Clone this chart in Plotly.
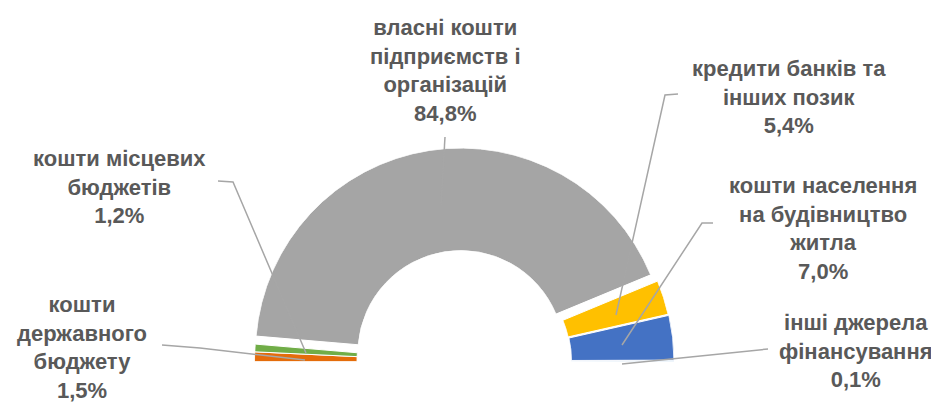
import numpy as np
import plotly.graph_objects as go

# ---------------- data ----------------
categories = [
    "кошти<br>державного<br>бюджету",
    "кошти місцевих<br>бюджетів",
    "власні кошти<br>підприємств і<br>організацій",
    "кредити банків та<br>інших позик",
    "кошти населення<br>на будівництво<br>житла",
    "інші джерела<br>фінансування",
]
shares = [1.5, 1.2, 84.8, 5.4, 7.0, 0.1]

# ---------------- styles ----------------
colors = ["#E46C0A", "#70AD47", "#A5A5A5", "#FFC000", "#4472C4", "#5B9BD5"]
explode_px = [(-2, 0), (-2, 0), (-1.2, -8), (5.7, -1.8), (6.5, -0.7), (6.5, 0)]
label_pos = [(82, 347), (119, 187), (445, 70), (789, 97), (823, 228), (856, 351)]
leaders = [
    [(162, 345), (200, 348), (305, 360)],
    [(218, 181), (233, 182), (306, 353)],
    [(445, 137), (441, 205)],
    [(678, 94), (665, 95), (616, 315)],
    [(713, 223), (702, 223), (622, 345)],
    [(768, 349), (622, 364)],
]

W, H = 939, 407
PAGE_OFFSET = 8  # default body margin of the html page
CX, CY, R, HOLE = 462, 361.5, 205.5, 0.501
TEXT_COLOR = "#595959"
FONT = "Liberation Sans"


def px(x):
    return (x - PAGE_OFFSET) / W


def py(y):
    return 1 - (y - PAGE_OFFSET) / H


vals = np.array(shares, dtype=float)
total = vals.sum()
deg = vals / total * 180.0
starts = np.concatenate([[0], np.cumsum(deg)[:-1]])
mids = starts + deg / 2

fig = go.Figure()
layout_polars = {}
for i, (v, c) in enumerate(zip(shares, colors)):
    key = "polar" if i == 0 else f"polar{i + 1}"
    dx, dy = explode_px[i]
    cx, cy = CX + dx, CY + dy
    fig.add_trace(go.Barpolar(
        r=[1], base=[0], theta=[mids[i]], width=[deg[i]],
        subplot=key, marker=dict(color=c, line=dict(color="white", width=1)),
        name=categories[i].replace("<br>", " "), showlegend=False,
        hoverinfo="name",
    ))
    layout_polars[key] = dict(
        domain=dict(x=[px(cx - R), px(cx + R)], y=[py(cy), py(cy - R)]),
        sector=[0, 180], hole=HOLE, bgcolor="rgba(0,0,0,0)",
        angularaxis=dict(direction="clockwise", rotation=180, visible=False,
                         showgrid=False, showline=False, showticklabels=False, ticks=""),
        radialaxis=dict(range=[0, 1], visible=False, showgrid=False,
                        showline=False, showticklabels=False, ticks=""),
    )

shapes = []
for pts in leaders:
    path = "M " + " L ".join(f"{px(x):.5f},{py(y):.5f}" for x, y in pts)
    shapes.append(dict(type="path", path=path, xref="paper", yref="paper",
                       line=dict(color="#A6A6A6", width=1.5), layer="above"))

annotations = []
for i, (cat, v) in enumerate(zip(categories, shares)):
    pct = f"{v:.1f}".replace(".", ",") + "%"
    x, y = label_pos[i]
    annotations.append(dict(
        text=f"{cat}<br>{pct}", x=px(x), y=py(y), xref="paper", yref="paper",
        xanchor="center", yanchor="middle", align="center", showarrow=False,
        font=dict(family=FONT, size=22, color=TEXT_COLOR, weight="bold"),
    ))

fig.update_layout(
    width=W, height=H, margin=dict(l=0, r=0, t=0, b=0),
    paper_bgcolor="white", plot_bgcolor="white",
    shapes=shapes, annotations=annotations, showlegend=False,
    **layout_polars,
)
fig.write_html("out.html")
